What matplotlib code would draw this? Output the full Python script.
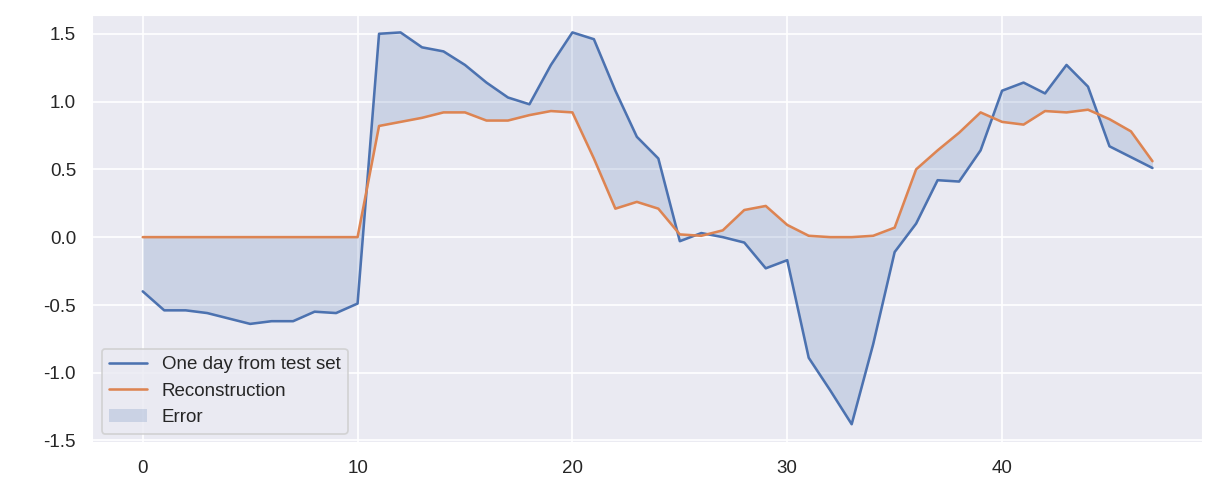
import numpy as np
import matplotlib
matplotlib.use("Agg")
import matplotlib.pyplot as plt
import seaborn as sns

sns.set_theme()
plt.rcParams['font.family'] = ['Liberation Sans', 'DejaVu Sans']
plt.rcParams['axes.unicode_minus'] = False

original = [-0.40, -0.54, -0.54, -0.56, -0.60, -0.64, -0.62, -0.62, -0.55, -0.56,
            -0.49, 1.50, 1.51, 1.40, 1.37, 1.27, 1.14, 1.03, 0.98, 1.27,
            1.51, 1.46, 1.08, 0.74, 0.58, -0.03, 0.03, 0.00, -0.04, -0.23,
            -0.17, -0.89, -1.13, -1.38, -0.79, -0.11, 0.10, 0.42, 0.41, 0.64,
            1.08, 1.14, 1.06, 1.27, 1.11, 0.67, 0.59, 0.51]
reconstruction = [0, 0, 0, 0, 0, 0, 0, 0, 0, 0,
                  0, 0.82, 0.85, 0.88, 0.92, 0.92, 0.86, 0.86, 0.90, 0.93,
                  0.92, 0.58, 0.21, 0.26, 0.21, 0.02, 0.01, 0.05, 0.20, 0.23,
                  0.09, 0.01, 0.00, 0.00, 0.01, 0.07, 0.50, 0.64, 0.77, 0.92,
                  0.85, 0.83, 0.93, 0.92, 0.94, 0.87, 0.78, 0.56]
x = np.arange(len(original))

fig = plt.figure(figsize=(10, 4.05), dpi=123)
ax = fig.add_axes([0.075, 0.11, 0.903, 0.86])
pal = sns.color_palette()
ax.plot(x, original, color=pal[0], label='One day from test set')
ax.plot(x, reconstruction, color=pal[1], label='Reconstruction')
ax.fill_between(x, original, reconstruction, color=pal[0], alpha=0.2,
                linewidth=0, label='Error')
ax.set_ylim(-1.52, 1.64)
ax.set_yticks([-1.5, -1.0, -0.5, 0.0, 0.5, 1.0, 1.5])
ax.legend(loc='lower left')
plt.savefig('out.png')
